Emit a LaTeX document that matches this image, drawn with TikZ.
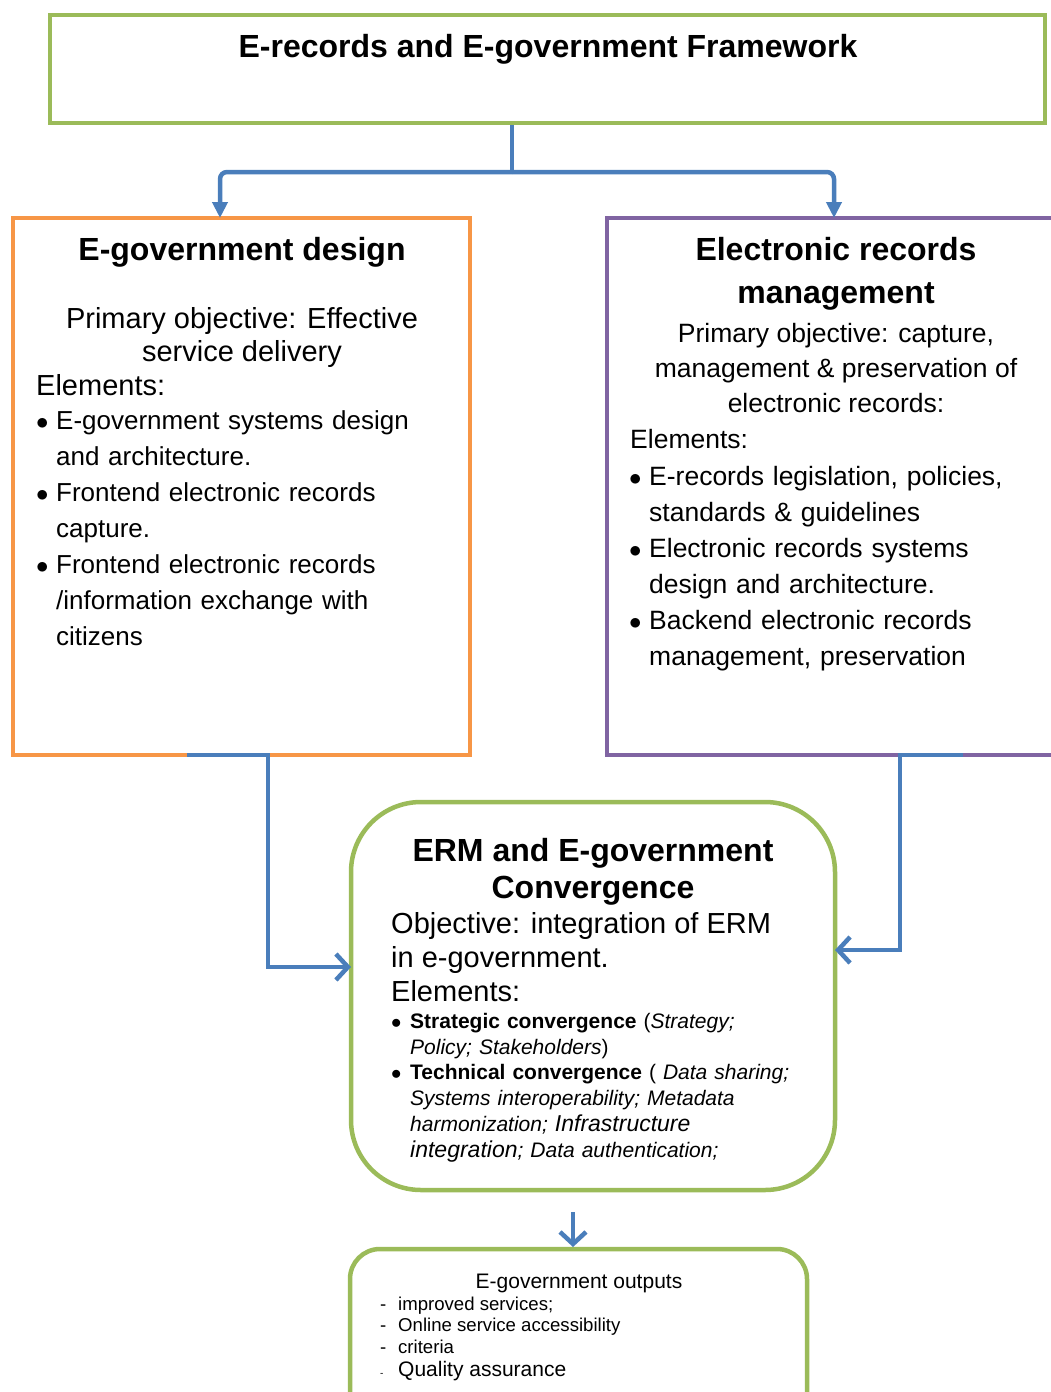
\documentclass[tikz,border=0pt]{standalone}
\usepackage{fontspec}
\setmainfont{Liberation Sans}
\usetikzlibrary{arrows.meta}

\definecolor{framegreen}{HTML}{9BBB59}
\definecolor{egovorange}{HTML}{F79646}
\definecolor{ermpurple}{HTML}{8064A2}
\definecolor{linkblue}{HTML}{4A7EBB}

% bullet line with hanging indent
\newcommand{\bitem}[2]{\hangindent=#1\hangafter=1\noindent\makebox[#1][l]{$\bullet$}#2\par}

\begin{document}
\begin{tikzpicture}[x=1pt, y=-1pt,
    box/.style={draw, line width=4.5pt, inner sep=0pt},
    txt/.style={inner sep=0pt, text=black},
    link/.style={draw=linkblue, line width=4.5pt},
    tri/.style={link, -{Triangle[length=16pt,width=15pt]}, rounded corners=7pt},
    barb/.style={link, -{Straight Barb[length=12pt,width=26pt]}}]
  \useasboundingbox (0,0) rectangle (1051,1392);

  % boxes
  \node[box, draw=framegreen, minimum width=995pt, minimum height=108pt] (frame) at (547.5,69) {};
  \node[box, draw=egovorange, line width=4pt, minimum width=457pt, minimum height=537pt] (egov) at (241.5,486.5) {};
  \node[box, draw=ermpurple, line width=4pt, minimum width=463pt, minimum height=537pt] (erm) at (838.5,486.5) {};
  \node[box, draw=framegreen, rounded corners=70pt, minimum width=484pt, minimum height=388pt] (conv) at (593,996) {};
  \node[box, draw=framegreen, rounded corners=30pt, minimum width=457pt, minimum height=181pt] (outputs) at (578.5,1339.5) {};

  % framework title
  \node[txt, anchor=base, font={\fontsize{32}{36}\selectfont\bfseries}] (title) at (548,57)
    {E-records and E-government Framework};

  % e-government design
  \node[txt, anchor=base, font={\fontsize{32}{43}\selectfont\bfseries}] (egovhead) at (242,260)
    {E-government design};
  \node[txt, anchor=north, align=center, font={\fontsize{29}{33}\selectfont}] (egovobj) at (242,305)
    {\strut Primary objective: Effective\\service delivery};
  \node[txt, anchor=base west, font={\fontsize{29}{33}\selectfont}] (egovel) at (36,395) {Elements:};
  \node[txt, anchor=north west, text width=430pt, align=left, font={\fontsize{26}{36}\selectfont}] (egovlist) at (36,404)
    {\bitem{20pt}{\strut E-government systems design\newline and architecture.}
     \bitem{20pt}{Frontend electronic records\newline capture.}
     \bitem{20pt}{Frontend electronic records\newline /information exchange with\newline citizens}};

  % electronic records management
  \node[txt, anchor=north, align=center, font={\fontsize{32}{43}\selectfont\bfseries}] (ermhead) at (836,230)
    {\strut Electronic records\\management};
  \node[txt, anchor=north, align=center, font={\fontsize{26.5}{35}\selectfont}] (ermobj) at (836,317.5)
    {\strut Primary objective: capture,\\management \& preservation of\\electronic records:};
  \node[txt, anchor=base west, font={\fontsize{26.5}{35}\selectfont}] (ermel) at (630,448) {Elements:};
  \node[txt, anchor=north west, text width=430pt, align=left, font={\fontsize{26.5}{36}\selectfont}] (ermlist) at (629,460)
    {\bitem{20pt}{\strut E-records legislation, policies,\newline standards \& guidelines}
     \bitem{20pt}{Electronic records systems\newline design and architecture.}
     \bitem{20pt}{Backend electronic records\newline management, preservation}};

  % convergence
  \node[txt, anchor=north, align=center, font={\fontsize{32}{37}\selectfont\bfseries}] (convhead) at (593,835)
    {\strut ERM and E-government\\Convergence};
  \node[txt, anchor=north west, align=left, font={\fontsize{29}{34}\selectfont}] (convobj) at (391,909)
    {\strut Objective: integration of ERM\\in e-government.\\Elements:};
  \node[txt, anchor=north west, text width=440pt, align=left, font={\fontsize{21}{25.8}\selectfont}] (convlist) at (391,1010)
    {\bitem{19pt}{\strut\textbf{Strategic convergence} (\textit{Strategy;}\newline\textit{Policy; Stakeholders})}
     \bitem{19pt}{\textbf{Technical convergence} ( \textit{Data sharing;}\newline\textit{Systems interoperability; Metadata}\newline\textit{harmonization; {\fontsize{23}{25.8}\selectfont Infrastructure}}\newline\textit{{\fontsize{23}{25.8}\selectfont integration}; Data authentication;}}};

  % outputs
  \node[txt, anchor=base, font={\fontsize{21}{24}\selectfont}] (outhead) at (579,1288) {E-government outputs};
  \node[txt, anchor=north west, align=left, font={\fontsize{18.6}{21.5}\selectfont}] (outlist) at (380,1295)
    {\strut\makebox[18pt][l]{-}improved services;\\
     \makebox[18pt][l]{-}Online service accessibility\\
     \makebox[18pt][l]{-}criteria\\[2pt]
     \makebox[18pt][l]{\fontsize{10}{12}\selectfont -}{\fontsize{21}{24}\selectfont Quality assurance}};

  % connectors
  \coordinate (split) at (512,172);
  \coordinate (egovin) at (220,218);
  \coordinate (ermin) at (834,218);
  \coordinate (egovout) at (268,755);
  \coordinate (ermout) at (900,755);
  \coordinate (convinl) at (351,967);
  \coordinate (convinr) at (835,950);
  \coordinate (outin) at (573,1247);

  \draw[link] (frame.south -| split) -- (split);
  \draw[tri] (split) -| (egovin);
  \draw[tri] (split) -| (ermin);
  \draw[barb] ([xshift=-81pt]egovout) -- (egovout) |- (convinl);
  \draw[barb] ([xshift=63pt]ermout) -- (ermout) |- (convinr);
  \draw[barb, shorten <=20pt] (conv.south -| outin) -- (outin);
\end{tikzpicture}
\end{document}
